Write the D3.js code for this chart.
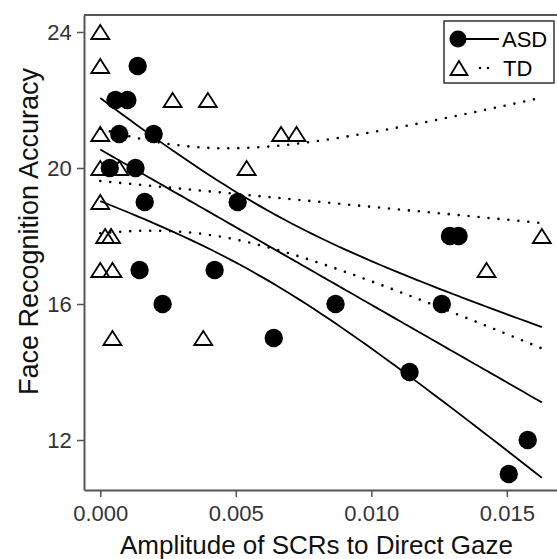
<!DOCTYPE html>
<html>
<head>
<meta charset="utf-8">
<script src="https://cdn.jsdelivr.net/npm/d3@7"></script>
<style>
  body { margin: 0; background: #fff; }
  svg { font-family: "Liberation Sans", Arial, sans-serif; }
</style>
</head>
<body>
<div id="chart"></div>
<script>
// ASD group (filled circles)
const asdX = [0.00138, 0.00056, 0.00100, 0.00070, 0.00197, 0.00035, 0.00130, 0.00164, 0.00507,
              0.00145, 0.00422, 0.00230, 0.00640, 0.00868, 0.01260, 0.01290, 0.01322, 0.01141,
              0.01577, 0.01507];
const asdY = [23, 22, 22, 21, 21, 20, 20, 19, 19, 17, 17, 16, 15, 16, 16, 18, 18, 14, 12, 11];

// TD group (open triangles)
const tdX = [0, 0, 0, 0, 0.00070, 0, 0.00018, 0.00040, 0, 0.00045, 0.00045, 0.00380,
             0.00267, 0.00397, 0.00667, 0.00724, 0.00540, 0.01629, 0.01425];
const tdY = [24, 23, 21, 20, 20, 19, 18, 18, 17, 17, 15, 15, 22, 22, 21, 21, 20, 18, 17];

const xTicks = [0, 0.005, 0.010, 0.015];
const yTicks = [12, 16, 20, 24];

const W = 557, H = 559;
const pLeft = 84, pTop = 15, pBottom = 490, pRight = 557;

const svg = d3.select("#chart").append("svg")
  .attr("width", W).attr("height", H);

const x = d3.scaleLinear().domain([-0.0006, 0.01685]).range([pLeft, pRight]);
const y = d3.scaleLinear().domain([10.53, 24.5]).range([pBottom, pTop]);

// frame
svg.append("line").attr("x1", pLeft).attr("x2", pRight).attr("y1", pTop).attr("y2", pTop)
  .attr("stroke", "#555").attr("stroke-width", 2);

const xAxis = svg.append("g")
  .attr("transform", `translate(0,${pBottom})`)
  .call(d3.axisBottom(x).tickValues(xTicks).tickFormat(d3.format(".3f")).tickSize(7).tickSizeOuter(0));
const yAxis = svg.append("g")
  .attr("transform", `translate(${pLeft},0)`)
  .call(d3.axisLeft(y).tickValues(yTicks).tickSize(7).tickSizeOuter(0));

[xAxis, yAxis].forEach(g => {
  g.select(".domain").attr("stroke", "#555").attr("stroke-width", 2);
  g.selectAll(".tick line").attr("stroke", "#555").attr("stroke-width", 1.5);
  g.selectAll(".tick text").attr("fill", "#333").style("font-size", "22px")
   .style("font-family", "'Liberation Sans', Arial, sans-serif");
});
xAxis.selectAll(".tick text").attr("dy", "0.95em");
yAxis.selectAll(".tick text").attr("dx", "-0.1em");

// axis titles
svg.append("text")
  .attr("x", (pLeft + pRight) / 2 - 4).attr("y", 554)
  .attr("text-anchor", "middle").style("font-size", "26px").attr("fill", "#111")
  .text("Amplitude of SCRs to Direct Gaze");
svg.append("text")
  .attr("transform", `translate(38, ${(pTop + pBottom) / 2 - 21}) rotate(-90)`)
  .attr("text-anchor", "middle").style("font-size", "27px").attr("fill", "#111")
  .text("Face Recognition Accuracy");

// linear fit with 95% confidence band of the mean
function fitBands(xs, ys, x0, x1) {
  const n = xs.length;
  const mx = d3.mean(xs), my = d3.mean(ys);
  let sxx = 0, sxy = 0;
  for (let i = 0; i < n; i++) {
    sxx += (xs[i] - mx) ** 2;
    sxy += (xs[i] - mx) * (ys[i] - my);
  }
  const b = sxy / sxx, a = my - b * mx;
  let sse = 0;
  for (let i = 0; i < n; i++) sse += (ys[i] - a - b * xs[i]) ** 2;
  const s = Math.sqrt(sse / (n - 2));
  const t = tCrit(n - 2);
  const pts = d3.range(0, 61).map(k => {
    const xv = x0 + (x1 - x0) * k / 60;
    const fit = a + b * xv;
    const half = t * s * Math.sqrt(1 / n + (xv - mx) ** 2 / sxx);
    return { x: xv, fit: fit, lo: fit - half, hi: fit + half };
  });
  return pts;
}
// two-sided 95% t value, approximation
function tCrit(df) {
  const z = 1.959964;
  return z + (z ** 3 + z) / (4 * df) + (5 * z ** 5 + 16 * z ** 3 + 3 * z) / (96 * df * df);
}

const allX = asdX.concat(tdX);
const x0 = d3.min(allX), x1 = d3.max(allX);
const asdFit = fitBands(asdX, asdY, x0, x1);
const tdFit = fitBands(tdX, tdY, x0, x1);

function drawBands(pts, dotted) {
  ["hi", "fit", "lo"].forEach(k => {
    const line = d3.line().x(d => x(d.x)).y(d => y(d[k])).curve(d3.curveMonotoneX);
    const p = svg.append("path").datum(pts).attr("d", line)
      .attr("fill", "none").attr("stroke", "#000");
    if (dotted) {
      p.attr("stroke-width", 2.6).attr("stroke-dasharray", "0,10").attr("stroke-linecap", "round");
    } else {
      p.attr("stroke-width", 1.8);
    }
  });
}
drawBands(tdFit, true);
drawBands(asdFit, false);

// triangle path centred on its bounding box
function tri(cx, cy, w, h) {
  return `M${cx},${cy - h / 2}L${cx + w / 2},${cy + h / 2}L${cx - w / 2},${cy + h / 2}Z`;
}

svg.append("g").selectAll("path")
  .data(tdX.map((d, i) => ({ x: d, y: tdY[i] })))
  .enter().append("path")
  .attr("d", d => tri(x(d.x), y(d.y), 18, 14))
  .attr("fill", "none").attr("stroke", "#000").attr("stroke-width", 1.8)
  .attr("stroke-linejoin", "miter");

svg.append("g").selectAll("circle")
  .data(asdX.map((d, i) => ({ x: d, y: asdY[i] })))
  .enter().append("circle")
  .attr("cx", d => x(d.x)).attr("cy", d => y(d.y)).attr("r", 9.2)
  .attr("fill", "#000");

// legend
const lg = svg.append("g");
lg.append("rect").attr("x", 444).attr("y", 21).attr("width", 110).attr("height", 62)
  .attr("fill", "#fff").attr("stroke", "#333").attr("stroke-width", 1.5);
lg.append("circle").attr("cx", 458).attr("cy", 39).attr("r", 8.5).attr("fill", "#000");
lg.append("line").attr("x1", 465).attr("x2", 499).attr("y1", 39).attr("y2", 39)
  .attr("stroke", "#000").attr("stroke-width", 2);
lg.append("text").attr("x", 502).attr("y", 47).style("font-size", "22px").text("ASD");
lg.append("path").attr("d", tri(459, 68, 17, 14))
  .attr("fill", "none").attr("stroke", "#000").attr("stroke-width", 1.8);
lg.append("line").attr("x1", 480).attr("x2", 490).attr("y1", 68).attr("y2", 68)
  .attr("stroke", "#000").attr("stroke-width", 2.6).attr("stroke-dasharray", "0,8")
  .attr("stroke-linecap", "round");
lg.append("text").attr("x", 503).attr("y", 76).style("font-size", "22px").text("TD");
</script>
</body>
</html>
